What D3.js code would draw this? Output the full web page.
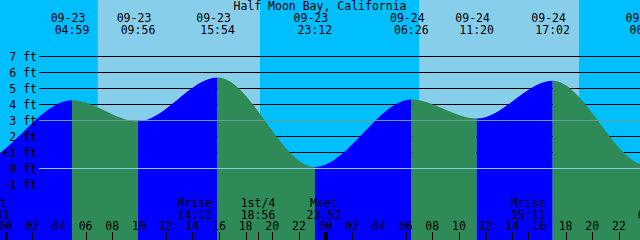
<!DOCTYPE html>
<html>
<head>
<meta charset="utf-8">
<script src="https://cdn.jsdelivr.net/npm/d3@7"></script>
<style>
  body { margin: 0; background: #fff; }
  svg { display: block; }
  text { font-family: "DejaVu Sans Mono", monospace; font-size: 11.5px; fill: #000; }
</style>
</head>
<body>
<svg id="chart"></svg>
<script>
// data
const title = 'Half Moon Bay, California';

const tideTimes  = ['09-22 15:10', '09-22 21:40', '09-23 04:59', '09-23 09:56', '09-23 15:54',
                    '09-23 23:12', '09-24 06:26', '09-24 11:20', '09-24 17:02', '09-25 00:06', '09-25 07:40'];
const tideLevels = [5.6, 0.3, 4.27, 2.95, 5.69, 0.1, 4.31, 3.12, 5.48, 0.2, 4.3];

const sunTimes = ['09-22 19:06', '09-23 06:55', '09-23 19:05', '09-24 07:01', '09-24 19:01', '09-25 07:02'];
const sunKinds = ['set', 'rise', 'set', 'rise', 'set', 'rise'];

const moonTimes = ['09-22 23:01', '09-23 14:12', '09-23 18:56', '09-23 23:52', '09-24 15:11', '09-25 00:43'];
const moonNames = ['Mset', 'Mrise', '1st/4', 'Mset', 'Mrise', 'Mset'];

const levelTicks  = [-1, 0, 1, 2, 3, 4, 5, 6, 7];
const levelLabels = ['-1 ft', '0 ft', '1 ft', '2 ft', '3 ft', '4 ft', '5 ft', '6 ft', '7 ft'];
const gridLevels  = [1, 2, 3, 4, 5, 6, 7];
const mslLevel = 3;
const datumLevel = 0;

const chartStart = '09-22 23:35';
const chartHours = 48;

const width = 640, height = 240;
const parse = d3.utcParse('%m-%d %H:%M');
const fmtDate = d3.utcFormat('%m-%d');
const fmtTime = d3.utcFormat('%H:%M');

const tides = tideTimes.map((t, i) => ({ date: parse(t), level: tideLevels[i] }));
const suns = sunTimes.map((t, i) => ({ date: parse(t), kind: sunKinds[i] }));
const moons = moonTimes.map((t, i) => ({ date: parse(t), name: moonNames[i] }));

const t0 = parse(chartStart);
const t1 = d3.utcHour.offset(t0, chartHours);

const x = d3.scaleUtc().domain([t0, t1]).range([0, width]);
const y = d3.scaleLinear().domain([0, 7]).range([168.5, 56.5]);

// only label events whose text can reach the picture
const inView = d => x(d.date) > -20 && x(d.date) < width + 20;

const svg = d3.select('#chart').attr('width', width).attr('height', height);

// sky: night behind, day bands on top
svg.append('rect').attr('width', width).attr('height', height).attr('fill', '#00bfff');
suns.forEach((s, i) => {
  if (s.kind !== 'rise') return;
  const set = suns[i + 1] ? suns[i + 1].date : t1;
  svg.append('rect')
    .attr('x', x(s.date)).attr('width', x(set) - x(s.date))
    .attr('y', 0).attr('height', height)
    .attr('fill', '#87ceeb');
});

// grid lines (hidden by the water)
svg.append('g').selectAll('line').data(gridLevels).join('line')
  .attr('x1', 39).attr('x2', width)
  .attr('y1', d => y(d)).attr('y2', d => y(d))
  .attr('stroke', '#000').attr('shape-rendering', 'crispEdges');

// water, blue while rising and green while falling
const area = d3.area()
  .x(d => x(d.date))
  .y0(height)
  .y1(d => y(d.level))
  .curve(d3.curveMonotoneX);

const defs = svg.append('defs');
tides.slice(0, -1).forEach((d, i) => {
  const next = tides[i + 1];
  const rising = next.level > d.level;
  defs.append('clipPath').attr('id', 'seg' + i)
    .append('rect')
    .attr('x', x(d.date)).attr('width', x(next.date) - x(d.date))
    .attr('y', 0).attr('height', height);
  svg.append('path')
    .datum(tides)
    .attr('d', area)
    .attr('fill', rising ? '#0000ff' : '#2e8b57')
    .attr('clip-path', 'url(#seg' + i + ')');
});

// mean level and datum lines drawn over the water
svg.append('line')
  .attr('x1', 39).attr('x2', width).attr('y1', y(mslLevel)).attr('y2', y(mslLevel))
  .attr('stroke', '#6a9c9c').attr('shape-rendering', 'crispEdges');
svg.append('line')
  .attr('x1', 39).attr('x2', width).attr('y1', y(datumLevel)).attr('y2', y(datumLevel))
  .attr('stroke', '#87ceeb').attr('shape-rendering', 'crispEdges');

// level labels
svg.append('g').selectAll('text').data(levelTicks).join('text')
  .attr('x', 37).attr('y', d => y(d) + 4)
  .attr('text-anchor', 'end')
  .text((d, i) => levelLabels[i]);
svg.append('text').attr('x', 5).attr('y', y(1) + 4).attr('text-anchor', 'middle').text('+');

// title and tide event labels
svg.append('text').attr('x', width / 2).attr('y', 9.5).attr('text-anchor', 'middle').text(title);

const tideLabels = svg.append('g').selectAll('g').data(tides.filter(inView)).join('g');
tideLabels.append('text')
  .attr('x', d => x(d.date) - 4).attr('y', 21.5)
  .attr('text-anchor', 'middle')
  .text(d => fmtDate(d.date));
tideLabels.append('text')
  .attr('x', d => x(d.date)).attr('y', 33.5)
  .attr('text-anchor', 'middle')
  .text(d => fmtTime(d.date));

// moon labels
const moonLabels = svg.append('g').selectAll('g').data(moons.filter(inView)).join('g');
moonLabels.append('text')
  .attr('x', d => x(d.date)).attr('y', 206.5)
  .attr('text-anchor', 'middle')
  .text(d => d.name);
moonLabels.append('text')
  .attr('x', d => x(d.date)).attr('y', 218.5)
  .attr('text-anchor', 'middle')
  .text(d => fmtTime(d.date));

// hour axis
const hours = x.ticks(d3.utcHour.every(2));
svg.append('g').selectAll('text').data(hours).join('text')
  .attr('x', d => x(d)).attr('y', 230)
  .attr('text-anchor', 'middle')
  .text(d => d3.utcFormat('%H')(d));

svg.append('g').selectAll('line').data(hours).join('line')
  .attr('x1', d => Math.round(x(d)) + 0.5).attr('x2', d => Math.round(x(d)) + 0.5)
  .attr('y1', 232).attr('y2', height)
  .attr('stroke', '#000')
  .attr('stroke-width', d => d.getUTCHours() === 0 ? 3 : 1);

svg.append('g').selectAll('line').data(moons).join('line')
  .attr('x1', d => Math.round(x(d.date)) + 0.5).attr('x2', d => Math.round(x(d.date)) + 0.5)
  .attr('y1', 232).attr('y2', height)
  .attr('stroke', '#000');
</script>
</body>
</html>
